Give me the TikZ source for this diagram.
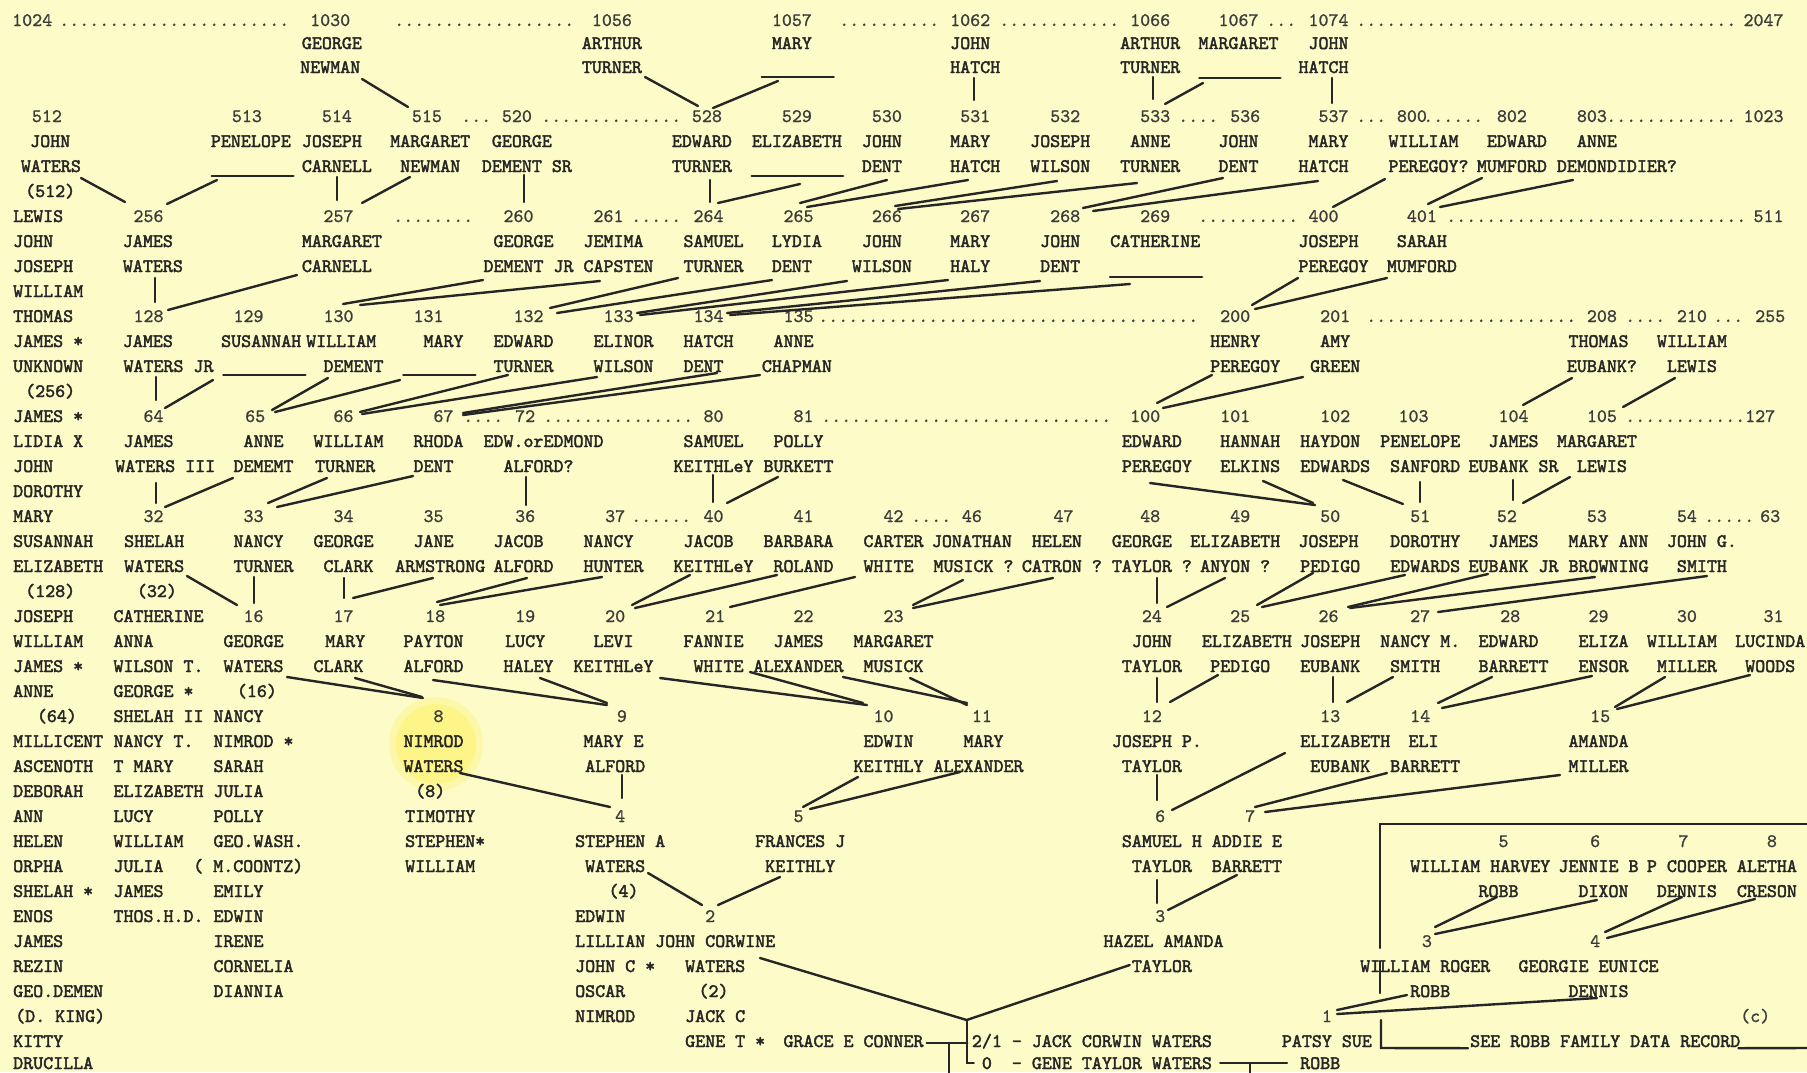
\documentclass[tikz,border=0pt]{standalone}
\usepackage{fontspec}
\newfontfamily\tw{lmmono10-regular}[Extension=.otf,FakeBold=2.2]
\newfontfamily\tn{lmmono10-regular}[Extension=.otf,FakeBold=1.1]
\definecolor{bg}{RGB}{253,251,199}
\definecolor{hl}{RGB}{255,245,125}
\definecolor{ink}{RGB}{38,38,38}
\definecolor{inkn}{RGB}{60,60,60}
\ExplSyntaxOn
\cs_new:Npn \reps #1 { \prg_replicate:nn {#1} {.} }
\ExplSyntaxOff
\tikzset{
 tx/.style={anchor=base west,inner sep=0pt,text height=12pt,text depth=0pt,text=ink,font=\tw\fontsize{19.05}{25}\selectfont},
 nx/.style={tx,text=inkn,font=\tn\fontsize{19.05}{25}\selectfont},
 blank/.style={anchor=west,inner sep=0pt,minimum height=0pt,text height=0pt,text depth=0pt},
 ln/.style={draw=ink,line width=2.4pt,line cap=round}
}
\newcommand\Tx[4]{\node[tx] (#1) at (#2,#3+6) {#4};\expandafter\xdef\csname PX#1\endcsname{#2}\expandafter\xdef\csname PY#1\endcsname{#3}}
\newcommand\Nx[4]{\node[nx] (#1) at (#2,#3+6) {#4};\expandafter\xdef\csname PX#1\endcsname{#2}\expandafter\xdef\csname PY#1\endcsname{#3}}
\newcommand\Dx[4]{\node[nx] (#1) at (#2,#3+6) {\reps{#4}};}
\newcommand\Bx[4]{\node[blank,minimum width={#3-#2}] (#1) at (#2,#4) {};\draw[ln] (#1.west) -- (#1.east);\expandafter\xdef\csname PX#1\endcsname{#2}\expandafter\xdef\csname PY#1\endcsname{#4}}
\newcommand\Cx[6]{\draw[ln] ([shift={({#2-\csname PX#1\endcsname},{#3-\csname PY#1\endcsname})}]#1.west) -- ([shift={({#5-\csname PX#4\endcsname},{#6-\csname PY#4\endcsname})}]#4.west);}
\begin{document}
\begin{tikzpicture}[x=1pt,y=-1pt]
\useasboundingbox (0,0) rectangle (1807,1072);
\fill[bg] (0,0) rectangle (1807,1072);
\fill[hl,opacity=0.4] (436,744) circle (47);
\fill[hl,opacity=0.75] (436,744) circle (40);
% ---- top row
\Nx{n1024}{12}{20}{1024}
\Dx{d1}{59}{20}{23}
\Nx{n1030}{310}{20}{1030}
\Dx{d2}{394}{20}{18}
\Nx{n1056}{591.7}{20}{1056}
\Nx{n1057}{771.7}{20}{1057}
\Dx{d3}{839}{20}{10}
\Nx{n1062}{950}{20}{1062}
\Dx{d4}{999}{20}{12}
\Nx{n1066}{1130}{20}{1066}
\Nx{n1067}{1218.3}{20}{1067}
\Dx{d5}{1266}{20}{3}
\Nx{n1074}{1308.3}{20}{1074}
\Dx{d6}{1356}{20}{38}
\Nx{n2047}{1743.3}{20}{2047}
\Tx{a1030}{301.7}{43}{GEORGE}
\Tx{a1056}{581.7}{43}{ARTHUR}
\Tx{a1057}{771.7}{43}{MARY}
\Tx{a1062}{950}{43}{JOHN}
\Tx{a1066}{1120}{43}{ARTHUR}
\Tx{a1067}{1198.3}{43}{MARGARET}
\Tx{a1074}{1308.3}{43}{JOHN}
\Tx{b1030}{300}{67}{NEWMAN}
\Tx{b1056}{581.7}{67}{TURNER}
\Bx{b1057}{761.7}{833.3}{77}
\Tx{b1062}{950}{67}{HATCH}
\Tx{b1066}{1120}{67}{TURNER}
\Bx{b1067}{1199.3}{1280}{78}
\Tx{b1074}{1298.3}{67}{HATCH}
% ---- 512 row
\Nx{n512}{31.7}{116}{512}
\Nx{n513}{231.7}{116}{513}
\Nx{n514}{321.7}{116}{514}
\Nx{n515}{411.7}{116}{515}
\Dx{d7}{461}{116}{3}
\Nx{n520}{501.7}{116}{520}
\Dx{d8}{541}{116}{14}
\Nx{n528}{691.7}{116}{528}
\Nx{n529}{781.7}{116}{529}
\Nx{n530}{871.7}{116}{530}
\Nx{n531}{960}{116}{531}
\Nx{n532}{1050}{116}{532}
\Nx{n533}{1140}{116}{533}
\Dx{d9}{1178}{116}{4}
\Nx{n536}{1230}{116}{536}
\Nx{n537}{1318.3}{116}{537}
\Dx{d10}{1356}{116}{3}
\Nx{n800}{1396.7}{116}{800}
\Dx{d11}{1423}{116}{6}
\Nx{n802}{1496.7}{116}{802}
\Nx{n803}{1576.7}{116}{803}
\Dx{d12}{1606}{116}{13}
\Nx{n1023}{1743.3}{116}{1023}
\Tx{a512}{30}{141}{JOHN}
\Tx{a513}{210.7}{141}{PENELOPE}
\Tx{a514}{301.7}{141}{JOSEPH}
\Tx{a515}{390}{141}{MARGARET}
\Tx{a520}{491.7}{141}{GEORGE}
\Tx{a528}{671.7}{141}{EDWARD}
\Tx{a529}{751.7}{141}{ELIZABETH}
\Tx{a530}{861.7}{141}{JOHN}
\Tx{a531}{950}{141}{MARY}
\Tx{a532}{1030}{141}{JOSEPH}
\Tx{a533}{1130}{141}{ANNE}
\Tx{a536}{1218.3}{141}{JOHN}
\Tx{a537}{1308.3}{141}{MARY}
\Tx{a800}{1388.3}{141}{WILLIAM}
\Tx{a802}{1486.7}{141}{EDWARD}
\Tx{a803}{1576.7}{141}{ANNE}
\Tx{b512}{20.7}{166}{WATERS}
\Bx{b513}{211.7}{293}{176}
\Tx{b514}{301.7}{166}{CARNELL}
\Tx{b515}{400}{166}{NEWMAN}
\Tx{b520}{481.7}{166}{DEMENT SR}
\Tx{b528}{671.7}{166}{TURNER}
\Bx{b529}{751.7}{842.7}{176}
\Tx{b530}{861.7}{166}{DENT}
\Tx{b531}{950}{166}{HATCH}
\Tx{b532}{1030}{166}{WILSON}
\Tx{b533}{1120}{166}{TURNER}
\Tx{b536}{1218.3}{166}{DENT}
\Tx{b537}{1298.3}{166}{HATCH}
\Tx{b800}{1388.3}{166}{PEREGOY?}
\Tx{b802}{1476.7}{166}{MUMFORD}
\Tx{b803}{1556.7}{166}{DEMONDIDIER?}
\Tx{c512}{25}{191}{(512)}
% ---- 256 row
\Nx{n256}{133.3}{216}{256}
\Nx{n257}{323.3}{216}{257}
\Dx{d13}{393}{216}{8}
\Nx{n260}{503.3}{216}{260}
\Nx{n261}{593.3}{216}{261}
\Dx{d14}{631}{216}{5}
\Nx{n264}{693.3}{216}{264}
\Nx{n265}{783.3}{216}{265}
\Nx{n266}{871.7}{216}{266}
\Nx{n267}{960}{216}{267}
\Nx{n268}{1050}{216}{268}
\Nx{n269}{1140}{216}{269}
\Dx{d15}{1198}{216}{10}
\Nx{n400}{1308.3}{216}{400}
\Nx{n401}{1406.7}{216}{401}
\Dx{d16}{1446}{216}{30}
\Nx{n511}{1753.3}{216}{511}
\Tx{a256}{122.7}{241}{JAMES}
\Tx{a257}{301.7}{241}{MARGARET}
\Tx{a260}{493.3}{241}{GEORGE}
\Tx{a261}{583.3}{241}{JEMIMA}
\Tx{a264}{683.3}{241}{SAMUEL}
\Tx{a265}{771.7}{241}{LYDIA}
\Tx{a266}{861.7}{241}{JOHN}
\Tx{a267}{950}{241}{MARY}
\Tx{a268}{1040}{241}{JOHN}
\Tx{a269}{1110}{241}{CATHERINE}
\Tx{a400}{1298.3}{241}{JOSEPH}
\Tx{a401}{1396.7}{241}{SARAH}
\Tx{b256}{122.7}{266}{WATERS}
\Tx{b257}{301.7}{266}{CARNELL}
\Tx{b260}{483.3}{266}{DEMENT JR}
\Tx{b261}{583.3}{266}{CAPSTEN}
\Tx{b264}{683.3}{266}{TURNER}
\Tx{b265}{771.7}{266}{DENT}
\Tx{b266}{851.7}{266}{WILSON}
\Tx{b267}{950}{266}{HALY}
\Tx{b268}{1040}{266}{DENT}
\Bx{b269}{1110}{1201.7}{277}
\Tx{b400}{1298.3}{266}{PEREGOY}
\Tx{b401}{1386.7}{266}{MUMFORD}
% ---- 128 row
\Nx{n128}{133.3}{316}{128}
\Nx{n129}{233.3}{316}{129}
\Nx{n130}{323.3}{316}{130}
\Nx{n131}{413.3}{316}{131}
\Nx{n132}{513.3}{316}{132}
\Nx{n133}{603.3}{316}{133}
\Nx{n134}{693.3}{316}{134}
\Nx{n135}{783.3}{316}{135}
\Dx{d17}{818}{316}{38}
\Nx{n200}{1220}{316}{200}
\Nx{n201}{1320}{316}{201}
\Dx{d18}{1366}{316}{21}
\Nx{n208}{1586.7}{316}{208}
\Dx{d19}{1625}{316}{4}
\Nx{n210}{1676.7}{316}{210}
\Dx{d20}{1713}{316}{3}
\Nx{n255}{1755}{316}{255}
\Tx{a128}{122.7}{341}{JAMES}
\Tx{a129}{221}{341}{SUSANNAH}
\Tx{a130}{306}{341}{WILLIAM}
\Tx{a131}{423.3}{341}{MARY}
\Tx{a132}{493.3}{341}{EDWARD}
\Tx{a133}{593.3}{341}{ELINOR}
\Tx{a134}{683.3}{341}{HATCH}
\Tx{a135}{773.3}{341}{ANNE}
\Tx{a200}{1210}{341}{HENRY}
\Tx{a201}{1320}{341}{AMY}
\Tx{a208}{1568.3}{341}{THOMAS}
\Tx{a210}{1656.7}{341}{WILLIAM}
\Tx{b128}{123.3}{366}{WATERS JR}
\Bx{b129}{223.3}{305}{375}
\Tx{b130}{323.3}{366}{DEMENT}
\Bx{b131}{403.3}{475}{375}
\Tx{b132}{493.3}{366}{TURNER}
\Tx{b133}{593.3}{366}{WILSON}
\Tx{b134}{683.3}{366}{DENT}
\Tx{b135}{761.7}{366}{CHAPMAN}
\Tx{b200}{1210}{366}{PEREGOY}
\Tx{b201}{1310}{366}{GREEN}
\Tx{b208}{1566.7}{366}{EUBANK?}
\Tx{b210}{1666.7}{366}{LEWIS}
% ---- 64 row
\Nx{n64}{143.3}{416}{64}
\Nx{n65}{245}{416}{65}
\Nx{n66}{333.3}{416}{66}
\Nx{n67}{433.3}{416}{67}
\Dx{d21}{463}{416}{4}
\Nx{n72}{515}{416}{72}
\Dx{d22}{543}{416}{15}
\Nx{n80}{703.3}{416}{80}
\Nx{n81}{793.3}{416}{81}
\Dx{d23}{821}{416}{29}
\Nx{n100}{1130}{416}{100}
\Nx{n101}{1220}{416}{101}
\Nx{n102}{1320}{416}{102}
\Nx{n103}{1398.3}{416}{103}
\Nx{n104}{1498.3}{416}{104}
\Nx{n105}{1586.7}{416}{105}
\Dx{d24}{1625}{416}{12}
\Nx{n127}{1745}{416}{127}
\Tx{a64}{123.3}{441}{JAMES}
\Tx{a65}{243.3}{441}{ANNE}
\Tx{a66}{313.3}{441}{WILLIAM}
\Tx{a67}{413.3}{441}{RHODA}
\Tx{a72}{483.3}{441}{EDW.orEDMOND}
\Tx{a80}{683.3}{441}{SAMUEL}
\Tx{a81}{773.3}{441}{POLLY}
\Tx{a100}{1121.7}{441}{EDWARD}
\Tx{a101}{1220}{441}{HANNAH}
\Tx{a102}{1300}{441}{HAYDON}
\Tx{a103}{1380}{441}{PENELOPE}
\Tx{a104}{1488.3}{441}{JAMES}
\Tx{a105}{1556.7}{441}{MARGARET}
\Tx{b64}{115}{466}{WATERS III}
\Tx{b65}{233.3}{466}{DEMEMT}
\Tx{b66}{315}{466}{TURNER}
\Tx{b67}{413.3}{466}{DENT}
\Tx{b72}{503.3}{466}{ALFORD?}
\Tx{b80}{673.3}{466}{KEITHLeY}
\Tx{b81}{763.3}{466}{BURKETT}
\Tx{b100}{1121.7}{466}{PEREGOY}
\Tx{b101}{1220}{466}{ELKINS}
\Tx{b102}{1300}{466}{EDWARDS}
\Tx{b103}{1390}{466}{SANFORD}
\Tx{b104}{1468.3}{466}{EUBANK SR}
\Tx{b105}{1576.7}{466}{LEWIS}
% ---- 32 row
\Nx{n32}{143.3}{516}{32}
\Nx{n33}{243.3}{516}{33}
\Nx{n34}{333.3}{516}{34}
\Nx{n35}{423.3}{516}{35}
\Nx{n36}{515}{516}{36}
\Nx{n37}{605}{516}{37}
\Dx{d25}{631}{516}{6}
\Nx{n40}{703.3}{516}{40}
\Nx{n41}{793.3}{516}{41}
\Nx{n42}{883.3}{516}{42}
\Dx{d26}{911}{516}{4}
\Nx{n46}{961.7}{516}{46}
\Nx{n47}{1053.3}{516}{47}
\Nx{n48}{1140}{516}{48}
\Nx{n49}{1230}{516}{49}
\Nx{n50}{1320}{516}{50}
\Nx{n51}{1410}{516}{51}
\Nx{n52}{1496.7}{516}{52}
\Nx{n53}{1586.7}{516}{53}
\Nx{n54}{1676.7}{516}{54}
\Dx{d27}{1704}{516}{5}
\Nx{n63}{1760}{516}{63}
\Tx{a32}{124}{541}{SHELAH}
\Tx{a33}{233.3}{541}{NANCY}
\Tx{a34}{313.3}{541}{GEORGE}
\Tx{a35}{413.3}{541}{JANE}
\Tx{a36}{493.3}{541}{JACOB}
\Tx{a37}{583.3}{541}{NANCY}
\Tx{a40}{683.3}{541}{JACOB}
\Tx{a41}{763.3}{541}{BARBARA}
\Tx{a42}{863.3}{541}{CARTER}
\Tx{a46}{931.7}{541}{JONATHAN}
\Tx{a47}{1031.7}{541}{HELEN}
\Tx{a48}{1111.7}{541}{GEORGE}
\Tx{a49}{1190}{541}{ELIZABETH}
\Tx{a50}{1298.3}{541}{JOSEPH}
\Tx{a51}{1390}{541}{DOROTHY}
\Tx{a52}{1488.3}{541}{JAMES}
\Tx{a53}{1568.3}{541}{MARY ANN}
\Tx{a54}{1666.7}{541}{JOHN G.}
\Tx{b32}{124}{566}{WATERS}
\Tx{b33}{233.3}{566}{TURNER}
\Tx{b34}{323.3}{566}{CLARK}
\Tx{b35}{395}{566}{ARMSTRONG}
\Tx{b36}{493.3}{566}{ALFORD}
\Tx{b37}{583.3}{566}{HUNTER}
\Tx{b40}{673.3}{566}{KEITHLeY}
\Tx{b41}{773.3}{566}{ROLAND}
\Tx{b42}{863.3}{566}{WHITE}
\Tx{b46}{933.3}{566}{MUSICK ?}
\Tx{b47}{1021.7}{566}{CATRON ?}
\Tx{b48}{1111.7}{566}{TAYLOR ?}
\Tx{b49}{1200}{566}{ANYON ?}
\Tx{b50}{1300}{566}{PEDIGO}
\Tx{b51}{1390}{566}{EDWARDS}
\Tx{b52}{1468.3}{566}{EUBANK JR}
\Tx{b53}{1568.3}{566}{BROWNING}
\Tx{b54}{1676.7}{566}{SMITH}
\Tx{c32}{136.7}{591}{(32)}
% ---- 16 row
\Nx{n16}{243.3}{616}{16}
\Nx{n17}{333.3}{616}{17}
\Nx{n18}{425}{616}{18}
\Nx{n19}{515}{616}{19}
\Nx{n20}{605}{616}{20}
\Nx{n21}{705}{616}{21}
\Nx{n22}{793.3}{616}{22}
\Nx{n23}{883.3}{616}{23}
\Nx{n24}{1141.7}{616}{24}
\Nx{n25}{1230}{616}{25}
\Nx{n26}{1318.3}{616}{26}
\Nx{n27}{1410}{616}{27}
\Nx{n28}{1500}{616}{28}
\Nx{n29}{1588.3}{616}{29}
\Nx{n30}{1676.7}{616}{30}
\Nx{n31}{1763.3}{616}{31}
\Tx{a16}{223.3}{641}{GEORGE}
\Tx{a17}{325}{641}{MARY}
\Tx{a18}{403.3}{641}{PAYTON}
\Tx{a19}{505}{641}{LUCY}
\Tx{a20}{593.3}{641}{LEVI}
\Tx{a21}{683.3}{641}{FANNIE}
\Tx{a22}{773.3}{641}{JAMES}
\Tx{a23}{853.3}{641}{MARGARET}
\Tx{a24}{1131.7}{641}{JOHN}
\Tx{a25}{1201.7}{641}{ELIZABETH}
\Tx{a26}{1300}{641}{JOSEPH}
\Tx{a27}{1380}{641}{NANCY M.}
\Tx{a28}{1478.3}{641}{EDWARD}
\Tx{a29}{1578.3}{641}{ELIZA}
\Tx{a30}{1646.7}{641}{WILLIAM}
\Tx{a31}{1735}{641}{LUCINDA}
\Tx{b16}{223.3}{666}{WATERS}
\Tx{b17}{313.3}{666}{CLARK}
\Tx{b18}{403.3}{666}{ALFORD}
\Tx{b19}{503.3}{666}{HALEY}
\Tx{b20}{573.3}{666}{KEITHLeY}
\Tx{b21}{693.3}{666}{WHITE}
\Tx{b22}{753.3}{666}{ALEXANDER}
\Tx{b23}{863.3}{666}{MUSICK}
\Tx{b24}{1121.7}{666}{TAYLOR}
\Tx{b25}{1210}{666}{PEDIGO}
\Tx{b26}{1300}{666}{EUBANK}
\Tx{b27}{1390}{666}{SMITH}
\Tx{b28}{1478.3}{666}{BARRETT}
\Tx{b29}{1578.3}{666}{ENSOR}
\Tx{b30}{1656.7}{666}{MILLER}
\Tx{b31}{1745}{666}{WOODS}
\Tx{c16}{236.7}{691}{(16)}
% ---- 8 row
\Nx{n8}{433.3}{716}{8}
\Nx{n9}{616.7}{716}{9}
\Nx{n10}{873.3}{716}{10}
\Nx{n11}{971.7}{716}{11}
\Nx{n12}{1141.7}{716}{12}
\Nx{n13}{1320}{716}{13}
\Nx{n14}{1410}{716}{14}
\Nx{n15}{1590}{716}{15}
\Tx{a8}{403.3}{741}{NIMROD}
\Tx{a9}{583.3}{741}{MARY E}
\Tx{a10}{863.3}{741}{EDWIN}
\Tx{a11}{963.3}{741}{MARY}
\Tx{a12}{1111.7}{741}{JOSEPH P.}
\Tx{a13}{1300}{741}{ELIZABETH}
\Tx{a14}{1408.3}{741}{ELI}
\Tx{a15}{1568.3}{741}{AMANDA}
\Tx{b8}{403.3}{766}{WATERS}
\Tx{b9}{585}{766}{ALFORD}
\Tx{b10}{853.3}{766}{KEITHLY}
\Tx{b11}{933.3}{766}{ALEXANDER}
\Tx{b12}{1121.7}{766}{TAYLOR}
\Tx{b13}{1310}{766}{EUBANK}
\Tx{b14}{1390}{766}{BARRETT}
\Tx{b15}{1568.3}{766}{MILLER}
\Tx{c8}{415}{791}{(8)}
% ---- 4 row
\Nx{n4}{615}{816}{4}
\Nx{n5}{793.3}{816}{5}
\Nx{n6}{1155}{816}{6}
\Nx{n7}{1245}{816}{7}
\Tx{a4}{575}{841}{STEPHEN A}
\Tx{a5}{755}{841}{FRANCES J}
\Tx{a6}{1121.7}{841}{SAMUEL H}
\Tx{a7}{1211.7}{841}{ADDIE E}
\Tx{b4}{585}{866}{WATERS}
\Tx{b5}{765}{866}{KEITHLY}
\Tx{b6}{1131.7}{866}{TAYLOR}
\Tx{b7}{1211.7}{866}{BARRETT}
\Tx{c4}{608.3}{891}{(4)}
% ---- 2 row
\Nx{n2}{705}{916}{2}
\Nx{n3}{1155}{916}{3}
\Tx{a2}{655}{941}{JOHN CORWINE}
\Tx{a3}{1103.3}{941}{HAZEL AMANDA}
\Tx{b2}{685}{966}{WATERS}
\Tx{b3}{1131.7}{966}{TAYLOR}
\Tx{c2}{698.3}{991}{(2)}
\Tx{k1}{685}{1016}{JACK C}
\Tx{k2}{685}{1041}{GENE T *}
\Tx{gc}{783.3}{1041}{GRACE E CONNER}
\Tx{jc}{971.7}{1041}{2/1 - JACK CORWIN WATERS}
\Tx{g0}{981.7}{1063}{0\ \ - GENE TAYLOR WATERS}
\Nx{n1}{1321.7}{1016}{1}
\Tx{pa}{1281.7}{1041}{PATSY SUE}
\Tx{pr}{1300}{1063}{ROBB}
% ---- children lists
\Tx{L0}{13}{216}{LEWIS}
\Tx{L1}{13}{241}{JOHN}
\Tx{L2}{13}{266}{JOSEPH}
\Tx{L3}{13}{291}{WILLIAM}
\Tx{L4}{13}{316}{THOMAS}
\Tx{L5}{13}{341}{JAMES *}
\Tx{L6}{13}{366}{UNKNOWN}
\Tx{L7}{25}{391}{(256)}
\Tx{L8}{13}{416}{JAMES *}
\Tx{L9}{13}{441}{LIDIA X}
\Tx{L10}{13}{466}{JOHN}
\Tx{L11}{13}{491}{DOROTHY}
\Tx{L12}{13}{516}{MARY}
\Tx{L13}{13}{541}{SUSANNAH}
\Tx{L14}{13}{566}{ELIZABETH}
\Tx{L15}{25}{591}{(128)}
\Tx{L16}{13}{616}{JOSEPH}
\Tx{L17}{13}{641}{WILLIAM}
\Tx{L18}{13}{666}{JAMES *}
\Tx{L19}{13}{691}{ANNE}
\Tx{L20}{36.7}{716}{(64)}
\Tx{L21}{13}{741}{MILLICENT}
\Tx{L22}{13}{766}{ASCENOTH}
\Tx{L23}{13}{791}{DEBORAH}
\Tx{L24}{13}{816}{ANN}
\Tx{L25}{13}{841}{HELEN}
\Tx{L26}{13}{866}{ORPHA}
\Tx{L27}{13}{891}{SHELAH *}
\Tx{L28}{13}{916}{ENOS}
\Tx{L29}{13}{941}{JAMES}
\Tx{L30}{13}{966}{REZIN}
\Tx{L31}{13}{991}{GEO.DEMEN}
\Tx{L32}{15}{1016}{(D. KING)}
\Tx{L33}{13}{1041}{KITTY}
\Tx{L34}{13}{1063}{DRUCILLA}
\Tx{M16}{113.3}{616}{CATHERINE}
\Tx{M17}{113.3}{641}{ANNA}
\Tx{M18}{113.3}{666}{WILSON T.}
\Tx{M19}{113.3}{691}{GEORGE *}
\Tx{M20}{113.3}{716}{SHELAH II}
\Tx{M21}{113.3}{741}{NANCY T.}
\Tx{M22}{113.3}{766}{T MARY}
\Tx{M23}{113.3}{791}{ELIZABETH}
\Tx{M24}{113.3}{816}{LUCY}
\Tx{M25}{113.3}{841}{WILLIAM}
\Tx{M26}{113.3}{866}{JULIA}
\Tx{M27}{113.3}{891}{JAMES}
\Tx{M28}{113.3}{916}{THOS.H.D.}
\Tx{N20}{213.3}{716}{NANCY}
\Tx{N21}{213.3}{741}{NIMROD *}
\Tx{N22}{213.3}{766}{SARAH}
\Tx{N23}{213.3}{791}{JULIA}
\Tx{N24}{213.3}{816}{POLLY}
\Tx{N25}{213.3}{841}{GEO.WASH.}
\Tx{N26}{193}{866}{( M.COONTZ)}
\Tx{N27}{213.3}{891}{EMILY}
\Tx{N28}{213.3}{916}{EDWIN}
\Tx{N29}{213.3}{941}{IRENE}
\Tx{N30}{213.3}{966}{CORNELIA}
\Tx{N31}{213.3}{991}{DIANNIA}
\Tx{P24}{405}{816}{TIMOTHY}
\Tx{P25}{405}{841}{STEPHEN*}
\Tx{P26}{405}{866}{WILLIAM}
\Tx{Q28}{575}{916}{EDWIN}
\Tx{Q29}{575}{941}{LILLIAN}
\Tx{Q30}{575}{966}{JOHN C *}
\Tx{Q31}{575}{991}{OSCAR}
\Tx{Q32}{575}{1016}{NIMROD}
% ---- Robb box
\Nx{r5}{1498.3}{841}{5}
\Nx{r6}{1590}{841}{6}
\Nx{r7}{1678.3}{841}{7}
\Nx{r8}{1766.7}{841}{8}
\Tx{ar5}{1410}{866}{WILLIAM HARVEY}
\Tx{ar6}{1558.3}{866}{JENNIE B}
\Tx{ar7}{1646.7}{866}{P COOPER}
\Tx{ar8}{1736.7}{866}{ALETHA}
\Tx{br5}{1478.3}{891}{ROBB}
\Tx{br6}{1578.3}{891}{DIXON}
\Tx{br7}{1656.7}{891}{DENNIS}
\Tx{br8}{1736.7}{891}{CRESON}
\Nx{r3}{1421.7}{941}{3}
\Nx{r4}{1590}{941}{4}
\Tx{ar3}{1360}{966}{WILLIAM ROGER}
\Tx{ar4}{1518.3}{966}{GEORGIE EUNICE}
\Tx{br3}{1410}{991}{ROBB}
\Tx{br4}{1568.3}{991}{DENNIS}
\Nx{cc}{1740}{1016}{(c)}
\Tx{see}{1470}{1041}{SEE ROBB FAMILY DATA RECORD}
\draw[ln] (1807,824) -- (1380,824) -- (1380,948);
\draw[ln] (1380,961) -- (1380,993);
\draw[ln] (1381,1020) -- (1381,1048) -- ([shift={(-2,1)}]see.south west);
\draw[ln] ([shift={(-2,1)}]see.south east) -- (1807,1048);
% ---- connectors
\Cx{b1030}{362}{79}{n515}{408}{107}
\Cx{b1056}{645}{77}{n528}{698}{106}
\Cx{b1057}{778}{81}{n528}{713}{108}
\Cx{b1062}{974}{78}{n531}{974}{100}
\Cx{b1066}{1153}{77}{n533}{1153}{99}
\Cx{b1067}{1203}{83}{n533}{1165}{104}
\Cx{b1074}{1332}{78}{n537}{1332}{103}
\Cx{b512}{81}{178}{n256}{125}{202}
\Cx{b513}{217}{180}{n256}{167}{204}
\Cx{b514}{337}{177}{n257}{337}{200}
\Cx{b515}{410}{177}{n257}{362}{203}
\Cx{b520}{524}{175}{n260}{524}{202}
\Cx{b528}{710}{180}{n264}{710}{202}
\Cx{b529}{800}{184}{n264}{718}{203}
\Cx{b530}{887}{180}{n265}{800}{203}
\Cx{b531}{968}{180}{n265}{807}{207}
\Cx{b532}{1057}{181}{n266}{895}{206}
\Cx{b533}{1137}{183}{n266}{898}{209}
\Cx{b536}{1223}{178}{n268}{1083}{208}
\Cx{b537}{1318}{181}{n268}{1093}{211}
\Cx{b800}{1385}{179}{n400}{1333}{207}
\Cx{b802}{1482}{178}{n401}{1428}{204}
\Cx{b803}{1573}{180}{n401}{1440}{207}
\Cx{b256}{155}{278}{n128}{155}{302}
\Cx{b257}{297}{275}{n128}{168}{310}
\Cx{b260}{483}{280}{n130}{343}{304}
\Cx{b261}{600}{281}{n130}{360}{305}
\Cx{b264}{678}{278}{n132}{550}{308}
\Cx{b265}{772}{280}{n132}{557}{313}
\Cx{b266}{847}{281}{n133}{637}{313}
\Cx{b267}{948}{280}{n133}{640}{315}
\Cx{b268}{1040}{281}{n134}{727}{313}
\Cx{b269}{1130}{284}{n134}{730}{315}
\Cx{b400}{1298}{278}{n200}{1252}{305}
\Cx{b401}{1387}{278}{n200}{1255}{309}
\Cx{b128}{156}{377}{n64}{156}{400}
\Cx{b129}{213}{380}{n64}{165}{408}
\Cx{b130}{328}{378}{n65}{272}{410}
\Cx{b131}{400}{380}{n65}{275}{412}
\Cx{b132}{508}{375}{n66}{360}{412}
\Cx{b133}{597}{377}{n66}{362}{414}
\Cx{b134}{717}{373}{n67}{463}{413}
\Cx{b135}{760}{375}{n67}{463}{415}
\Cx{b200}{1212}{375}{n100}{1157}{403}
\Cx{b201}{1303}{377}{n100}{1163}{408}
\Cx{b208}{1572}{378}{n104}{1523}{405}
\Cx{b210}{1675}{378}{n105}{1623}{407}
\Cx{b64}{156}{483}{n32}{156}{503}
\Cx{b65}{233}{478}{n32}{165}{507}
\Cx{b66}{327}{478}{n33}{268}{503}
\Cx{b67}{413}{476}{n33}{277}{507}
\Cx{b72}{526}{477}{n36}{526}{505}
\Cx{b80}{713}{475}{n40}{713}{502}
\Cx{b81}{778}{477}{n40}{727}{503}
\Cx{b100}{1150}{483}{n50}{1315}{505}
\Cx{b101}{1263}{481}{n50}{1313}{503}
\Cx{b102}{1343}{480}{n51}{1403}{504}
\Cx{b103}{1420}{482}{n51}{1420}{502}
\Cx{b104}{1513}{480}{n52}{1513}{500}
\Cx{b105}{1570}{477}{n52}{1523}{503}
\Cx{b32}{187}{576}{n16}{237}{605}
\Cx{b33}{254}{577}{n16}{254}{603}
\Cx{b34}{344}{578}{n17}{344}{598}
\Cx{b35}{433}{578}{n17}{353}{598}
\Cx{b36}{527}{578}{n18}{437}{602}
\Cx{b37}{602}{577}{n18}{440}{605}
\Cx{b40}{690}{575}{n20}{632}{605}
\Cx{b41}{777}{575}{n20}{635}{608}
\Cx{b42}{855}{577}{n21}{730}{607}
\Cx{b46}{963}{580}{n23}{913}{605}
\Cx{b47}{1053}{578}{n23}{913}{608}
\Cx{b48}{1157}{578}{n24}{1157}{603}
\Cx{b49}{1225}{578}{n24}{1167}{607}
\Cx{b50}{1313}{573}{n25}{1257}{605}
\Cx{b51}{1405}{575}{n25}{1262}{607}
\Cx{b52}{1488}{574}{n26}{1348}{607}
\Cx{b53}{1595}{577}{n26}{1350}{608}
\Cx{b54}{1707}{576}{n27}{1438}{612}
\Cx{b16}{287}{677}{n8}{423}{698}
\Cx{b17}{355}{678}{n8}{422}{697}
\Cx{b18}{433}{680}{n9}{607}{705}
\Cx{b19}{540}{678}{n9}{607}{703}
\Cx{b20}{660}{678}{n10}{867}{705}
\Cx{b21}{750}{672}{n10}{863}{703}
\Cx{b22}{843}{677}{n11}{967}{703}
\Cx{b23}{910}{678}{n11}{967}{705}
\Cx{b24}{1157}{678}{n12}{1157}{702}
\Cx{b25}{1218}{675}{n12}{1170}{702}
\Cx{b26}{1333}{677}{n13}{1333}{702}
\Cx{b27}{1393}{677}{n13}{1347}{702}
\Cx{b28}{1492}{677}{n14}{1438}{703}
\Cx{b29}{1592}{676}{n14}{1442}{708}
\Cx{b30}{1665}{677}{n15}{1615}{707}
\Cx{b31}{1750}{675}{n15}{1617}{709}
\Cx{b8}{460}{773}{n4}{610}{807}
\Cx{b9}{622}{775}{n4}{622}{798}
\Cx{b10}{858}{777}{n5}{803}{807}
\Cx{b11}{960}{772}{n5}{810}{809}
\Cx{b12}{1157}{775}{n6}{1157}{800}
\Cx{a13}{1285}{753}{n6}{1172}{810}
\Cx{b14}{1387}{773}{n7}{1255}{807}
\Cx{b15}{1560}{775}{n7}{1265}{812}
\Cx{b4}{648}{873}{n2}{702}{905}
\Cx{b5}{780}{877}{n2}{718}{905}
\Cx{b6}{1157}{880}{n3}{1157}{903}
\Cx{b7}{1237}{875}{n3}{1168}{910}
\Cx{br5}{1497}{897}{r3}{1435}{927}
\Cx{br6}{1597}{900}{r3}{1435}{934}
\Cx{br7}{1682}{897}{r4}{1605}{932}
\Cx{br8}{1755}{899}{r4}{1607}{938}
\Cx{br3}{1407}{995}{n1}{1337}{1010}
\Cx{br4}{1597}{998}{n1}{1337}{1014}
\coordinate (J) at (966.7,1020);
\draw[ln] ([shift={(75,-8)}]b2.west) -- (J) -- ([shift={(-2,-1)}]b3.west);
\draw[ln] (J) |- ([shift={(-8,0)}]g0.west);
\draw[ln] ([shift={(3,2)}]gc.east) -- ++(40.4,0);
\draw[ln] ([shift={(25,2)}]gc.east) -- ++(0,32);
\draw[ln] ([shift={(8,0)}]g0.east) -- ([shift={(-13,0)}]pr.west);
\draw[ln] ([shift={(38,0)}]g0.east) -- ++(0,12);
\end{tikzpicture}
\end{document}
